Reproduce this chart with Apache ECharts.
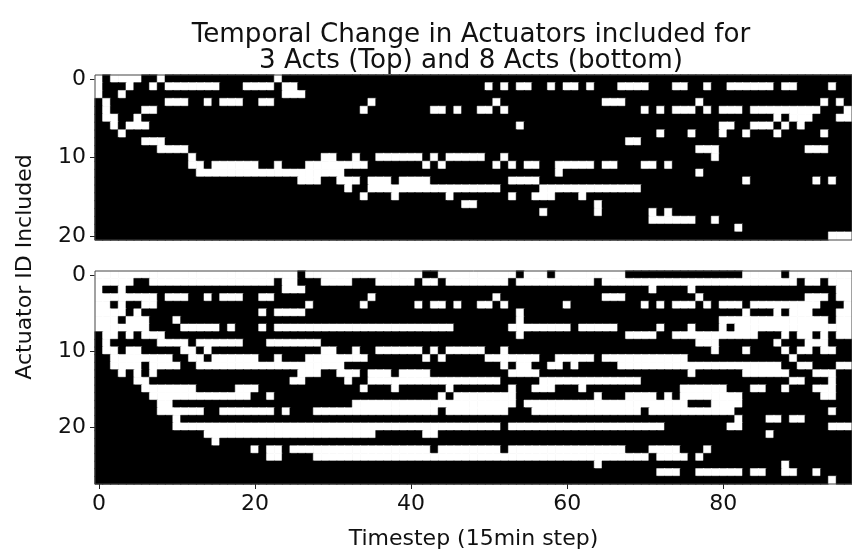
<!DOCTYPE html>
<html>
<head>
<meta charset="utf-8">
<style>html,body{margin:0;padding:0;background:#fff}#c{width:852px;height:552px}</style>
<script src="https://cdn.jsdelivr.net/npm/echarts@6/dist/echarts.min.js"></script>
</head>
<body>
<div id="c"></div>
<script>
const titleText = 'Temporal Change in Actuators included for\n3 Acts (Top) and 8 Acts (bottom)';
const xName = 'Timestep (15min step)';
const yName = 'Actuator ID Included';
const columnCount = 97;
const xTickStep = 20;
const yTickStep = 10;

// White cells per row, written as column spans
const topRows = [
 '0,2-5,8,23',
 '0,4,7,9-15,19-22,24-25,50,52,54-55,58,60-61,63,67-70,74-75,78,81-86,88-89,94',
 '0,3,24-26',
 '1,9-11,14,16-18,21-22,35,51,65-67,77,93,95',
 '1,6-7,34,43-44,46,49-50,52,70,72,74-76,78,80-82,84-92,96',
 '1-2,5,87,89-91,95-96',
 '2,4-6,54,80-81,84-86,88,90',
 '3,72,76,80,83,87,93',
 '6-8,68-69',
 '8-11,77-79,91-93',
 '12,29-30,33,36-41,43,45-49,52,79',
 '12-13,15-20,23,27-34,42,44,51,53,55-56,59-63,65-66,70-71,73',
 '13-31,59,77',
 '26-28,31-33,35-37,39-42,53-56,83,92,94',
 '32,35-51,57-69',
 '34,38,45,53,56-58,62',
 '47-48,64',
 '57,64,71,73',
 '71-76,79',
 '82',
 '94-96'
];
const bottomRows = [
 '0-25,27-41,44-53,55-57,59-67,83-87,89-96',
 '0-4,7-22,24-25,29-32,36-40,42-43,45-52,54-63,65-89,91-92,94-96',
 '0,3,24-26,71,76,95-96',
 '0-7,9-11,14,16-18,21-22,35,51,65-67,77,91-93,95-96',
 '0-1,3,6-7,27,34,41,43-44,46,49-50,52,60,70,72,74-76,78,80-82,84-92,96',
 '0-3,5,21,23-26,54,83,87,89-91,95-96',
 '0-2,4-6,10,54,80-93,95-96',
 '0-6,11-15,17,21,23-45,53-60,62-66,72,76,80,82-96',
 '1-2,4,6-8,54,68-71,74-84,88,90-91,93,95-96',
 '1,8-11,13-18,22-28,77-79,87,91-93',
 '1-2,4-5,11-12,14,29-30,33,36-41,43,45-49,52,79,83,88,90-91,93-94',
 '2-9,12-13,15-20,23,27-34,42,44,50-56,59-63,65-75,89',
 '2-5,7-10,13-31,52,54-55,58-59,61,67-87,90-91,95-96',
 '3,5,7,26-28,31-33,35-37,39-42,53-56,76,83-88,92-94',
 '5-6,25-26,32,35-51,57-69,89-90,94',
 '6-12,18-20,34,38,45,53,56-58,62,75-80,84-85,88,92-94',
 '7-19,22,44,46-53,64,68-71,73,75-82,93-94',
 '8-9,33-53,55-75,79-82',
 '8-13,16-22,24,28-43,45-52,56-69,71-81,94',
 '10,82,86-87,89-90',
 '10-51,53-72,81-82,94-96',
 '14-35,42-43,86',
 '15',
 '20,22-23,25-42,44-51,53-67,71-74,78',
 '22-23,28-70,72-75,77',
 '64,88',
 '72-74,77-82,84-85,88-89,92',
 '94'
];

function cells(rows){
  const out=[];
  rows.forEach((spec,r)=>{
    const on=new Array(columnCount).fill(0);
    spec.split(',').forEach(p=>{
      const [a,b]=p.split('-').map(Number);
      for(let c=a;c<=(b===undefined?a:b);c++) on[c]=1;
    });
    on.forEach((v,c)=>out.push({value:[c,r,v],itemStyle:{borderColor:v?'#fff':'#000',borderWidth:0.5}}));
  });
  return out;
}
const xCats=Array.from({length:columnCount},(_,i)=>String(i));
const yCats=n=>Array.from({length:n},(_,i)=>String(i));
const font='"DejaVu Sans"';
const frame='#444';
const tickFont=22;
const onEvery=step=>(i)=>i%step===0;
const boxTop={left:95,top:75,width:757,height:165};
const boxBottom={left:95,top:271,width:757,height:213};

const chart=echarts.init(document.getElementById('c'),null,{renderer:'canvas'});
chart.setOption({
  animation:false,
  backgroundColor:'#fff',
  title:{text:titleText,left:466,top:17,textAlign:'center',
    textStyle:{fontFamily:font,fontWeight:'normal',fontSize:26.2,lineHeight:26,color:'#111'}},
  graphic:[{type:'text',rotation:Math.PI/2,x:25,y:267,
    style:{text:yName,font:tickFont+'px '+font,fill:'#111',align:'center',verticalAlign:'middle'}}],
  visualMap:{show:false,type:'continuous',min:0,max:1,dimension:2,seriesIndex:[0,1],inRange:{color:['#000','#fff']}},
  grid:[
    Object.assign({show:true,z:0,backgroundColor:'#000',borderWidth:0},boxTop),
    Object.assign({show:true,z:0,backgroundColor:'#000',borderWidth:0},boxBottom),
    Object.assign({show:true,z:5,backgroundColor:'transparent',borderColor:frame,borderWidth:1},boxTop),
    Object.assign({show:true,z:5,backgroundColor:'transparent',borderColor:frame,borderWidth:1},boxBottom)
  ],
  xAxis:[
    {type:'category',gridIndex:0,data:xCats,show:false},
    {type:'category',gridIndex:1,data:xCats,boundaryGap:true,position:'bottom',
      name:xName,nameLocation:'middle',nameGap:44,
      nameTextStyle:{fontFamily:font,fontSize:tickFont,color:'#111'},
      axisLine:{show:false},
      axisTick:{show:true,alignWithLabel:true,interval:onEvery(xTickStep),length:5,lineStyle:{color:'#222'}},
      axisLabel:{interval:onEvery(xTickStep),fontFamily:font,fontSize:tickFont,color:'#111',margin:9},
      splitLine:{show:false}}
  ],
  yAxis:[
    {type:'category',gridIndex:0,data:yCats(topRows.length),inverse:true,
      axisLine:{show:false},
      axisTick:{show:true,alignWithLabel:true,interval:onEvery(yTickStep),length:5,lineStyle:{color:'#222'}},
      axisLabel:{interval:onEvery(yTickStep),fontFamily:font,fontSize:tickFont,color:'#111',margin:9},
      splitLine:{show:false}},
    {type:'category',gridIndex:1,data:yCats(bottomRows.length),inverse:true,
      axisLine:{show:false},
      axisTick:{show:true,alignWithLabel:true,interval:onEvery(yTickStep),length:5,lineStyle:{color:'#222'}},
      axisLabel:{interval:onEvery(yTickStep),fontFamily:font,fontSize:tickFont,color:'#111',margin:9},
      splitLine:{show:false}}
  ],
  series:[
    {type:'heatmap',xAxisIndex:0,yAxisIndex:0,data:cells(topRows),silent:true,progressive:0},
    {type:'heatmap',xAxisIndex:1,yAxisIndex:1,data:cells(bottomRows),silent:true,progressive:0}
  ]
});
</script>
</body>
</html>
